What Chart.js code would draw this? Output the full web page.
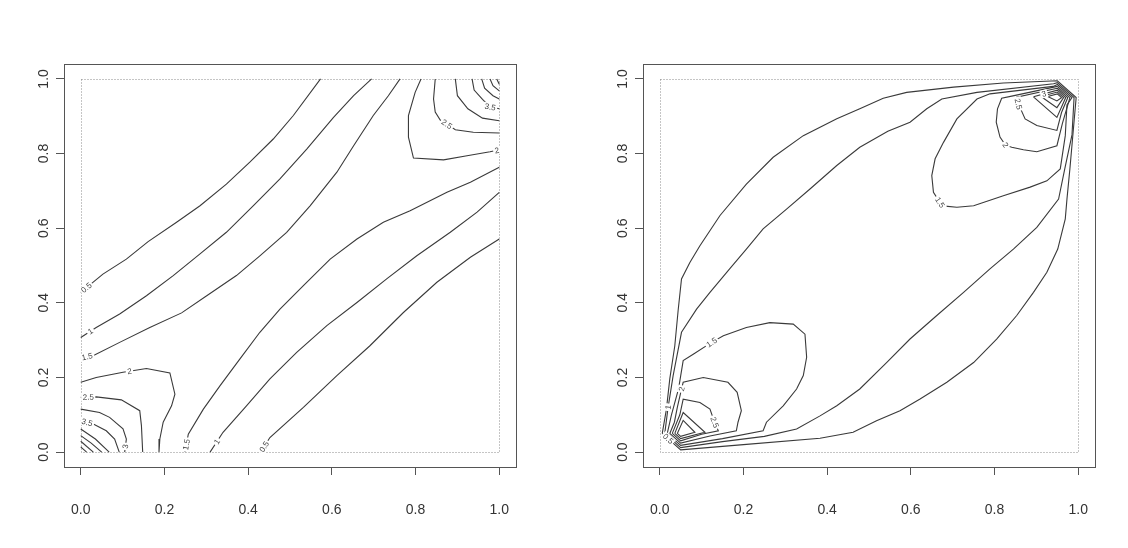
<!DOCTYPE html>
<html>
<head>
<meta charset="utf-8">
<script src="https://cdn.jsdelivr.net/npm/chart.js@4"></script>
<style>
  html, body { margin: 0; padding: 0; background: #fff; }
  #wrap { position: relative; width: 1128px; height: 548px; }
  canvas { position: absolute; top: 0; }
  #left { left: 0; }
  #right { left: 564px; }
</style>
</head>
<body>
<div id="wrap">
  <canvas id="left" width="564" height="548"></canvas>
  <canvas id="right" width="564" height="548"></canvas>
</div>
<script>
// tick values, same for both axes of both panels
const xTicks = [0, 0.2, 0.4, 0.6, 0.8, 1.0];
const yTicks = [0, 0.2, 0.4, 0.6, 0.8, 1.0];

// ---- left panel : contour lines, [x, y] ----
const l05a = [[0,0.428],[0.053,0.477],[0.109,0.517],[0.161,0.564],[0.229,0.616],[0.285,0.660],[0.348,0.718],[0.404,0.777],[0.460,0.839],[0.508,0.902],[0.573,1]];
const l1a  = [[0,0.307],[0.037,0.334],[0.093,0.370],[0.157,0.419],[0.221,0.473],[0.285,0.531],[0.348,0.589],[0.412,0.660],[0.476,0.732],[0.540,0.812],[0.604,0.897],[0.652,0.955],[0.695,1]];
const l15a = [[0,0.252],[0.033,0.260],[0.093,0.294],[0.165,0.334],[0.241,0.373],[0.301,0.419],[0.372,0.473],[0.428,0.526],[0.492,0.589],[0.548,0.660],[0.612,0.750],[0.652,0.821],[0.699,0.902],[0.735,0.955],[0.763,1]];
const l2ll  = [[0,0.187],[0.037,0.200],[0.101,0.214],[0.157,0.224],[0.213,0.212],[0.225,0.155],[0.217,0.124],[0.197,0.080],[0.189,0.035],[0.187,0]];
const l25ll = [[0,0.147],[0.037,0.148],[0.097,0.140],[0.141,0.111],[0.145,0.071],[0.148,0]];
const l3ll  = [[0,0.115],[0.045,0.106],[0.069,0.093],[0.101,0.062],[0.109,0.035],[0.105,0]];
const l35ll = [[0,0.084],[0.030,0.075],[0.061,0.057],[0.081,0.035],[0.092,0]];
const l4ll  = [[0,0.062],[0.035,0.035],[0.068,0]];
const l45ll = [[0,0.044],[0.025,0.024],[0.05,0]];
const l5ll  = [[0,0.029],[0.03,0]];
const l55ll = [[0,0.014],[0.014,0]];
const l15b = [[0.249,0],[0.257,0.048],[0.293,0.115],[0.333,0.178],[0.380,0.249],[0.428,0.321],[0.476,0.383],[0.532,0.446],[0.596,0.517],[0.660,0.571],[0.723,0.616],[0.787,0.647],[0.875,0.696],[0.931,0.723],[1,0.763]];
const l1b  = [[0.309,0],[0.340,0.053],[0.396,0.124],[0.452,0.196],[0.516,0.267],[0.588,0.339],[0.660,0.401],[0.731,0.464],[0.803,0.526],[0.883,0.589],[0.947,0.643],[1,0.696]];
const l05b = [[0.43,0],[0.452,0.039],[0.532,0.120],[0.612,0.205],[0.691,0.285],[0.771,0.374],[0.851,0.455],[0.931,0.522],[1,0.571]];
const l2ur  = [[1,0.81],[0.978,0.805],[0.923,0.794],[0.867,0.783],[0.795,0.788],[0.783,0.844],[0.783,0.902],[0.799,0.964],[0.813,1]];
const l25ur = [[1,0.855],[0.938,0.857],[0.895,0.864],[0.875,0.879],[0.859,0.890],[0.847,0.911],[0.843,0.946],[0.847,1]];
const l3ur  = [[1,0.888],[0.96,0.895],[0.925,0.92],[0.9,0.955],[0.895,1]];
const l35ur = [[1,0.92],[0.978,0.925],[0.96,0.945],[0.94,0.97],[0.935,1]];
const l4ur  = [[1,0.946],[0.985,0.955],[0.965,0.975],[0.958,1]];
const l45ur = [[1,0.968],[0.985,0.982],[0.978,1]];
const l5ur  = [[1,0.986],[0.994,1]];

const leftLines = [l05a, l1a, l15a, l2ll, l25ll, l3ll, l35ll, l4ll, l45ll, l5ll, l55ll,
                   l15b, l1b, l05b, l2ur, l25ur, l3ur, l35ur, l4ur, l45ur, l5ur];
const leftLabels = [
  ['0.5', l05a, 0.016, 0.437], ['1', l1a, 0.026, 0.319], ['1.5', l15a, 0.018, 0.242],
  ['2', l2ll, 0.117, 0.212], ['2.5', l25ll, 0.018, 0.145], ['3', l3ll, 0.109, 0.015],
  ['3.5', l35ll, 0.015, 0.078], ['1.5', l15b, 0.249, 0.021], ['1', l1b, 0.328, 0.026],
  ['0.5', l05b, 0.44, 0.013], ['2', l2ur, 0.994, 0.81], ['2.5', l25ur, 0.875, 0.879],
  ['3.5', l35ur, 0.978, 0.922]
];

// ---- right panel ----
const r05 = [[0.006,0.05],[0.016,0.115],[0.024,0.196],[0.036,0.285],[0.044,0.38],[0.052,0.464],[0.072,0.508],[0.096,0.553],[0.144,0.634],[0.207,0.718],[0.271,0.790],[0.343,0.848],[0.423,0.893],[0.478,0.920],[0.534,0.948],[0.590,0.964],[0.702,0.978],[0.821,0.989],[0.95,0.995],[0.995,0.95],[0.98,0.759],[0.973,0.678],[0.969,0.625],[0.951,0.544],[0.925,0.482],[0.893,0.428],[0.853,0.366],[0.805,0.303],[0.750,0.240],[0.686,0.187],[0.622,0.142],[0.574,0.111],[0.518,0.084],[0.462,0.053],[0.383,0.037],[0.2,0.02],[0.05,0.006],[0.006,0.05]];
const r1 = [[0.012,0.05],[0.020,0.12],[0.032,0.205],[0.052,0.321],[0.088,0.383],[0.120,0.428],[0.167,0.491],[0.207,0.544],[0.247,0.598],[0.303,0.651],[0.359,0.705],[0.423,0.768],[0.478,0.817],[0.545,0.860],[0.598,0.884],[0.638,0.920],[0.674,0.946],[0.758,0.964],[0.941,0.987],[0.95,0.99],[0.99,0.95],[0.985,0.85],[0.968,0.76],[0.953,0.678],[0.901,0.602],[0.845,0.544],[0.789,0.491],[0.726,0.428],[0.662,0.366],[0.598,0.303],[0.542,0.240],[0.478,0.169],[0.423,0.124],[0.383,0.097],[0.327,0.062],[0.25,0.042],[0.15,0.028],[0.05,0.012],[0.012,0.05]];
const r15ll = [[0.018,0.05],[0.028,0.10],[0.045,0.17],[0.056,0.245],[0.08,0.262],[0.124,0.294],[0.152,0.312],[0.207,0.334],[0.263,0.347],[0.319,0.343],[0.347,0.316],[0.351,0.254],[0.343,0.205],[0.327,0.169],[0.295,0.124],[0.255,0.08],[0.247,0.057],[0.15,0.036],[0.05,0.018],[0.018,0.05]];
const r2ll  = [[0.024,0.05],[0.035,0.08],[0.042,0.12],[0.052,0.169],[0.056,0.187],[0.104,0.200],[0.163,0.187],[0.185,0.160],[0.195,0.111],[0.187,0.080],[0.183,0.057],[0.12,0.043],[0.05,0.024],[0.024,0.05]];
const r25ll = [[0.030,0.05],[0.048,0.10],[0.056,0.142],[0.096,0.133],[0.120,0.115],[0.131,0.08],[0.14,0.057],[0.1,0.048],[0.05,0.03],[0.030,0.05]];
const r3ll  = [[0.036,0.05],[0.056,0.106],[0.108,0.053],[0.05,0.036],[0.036,0.05]];
const r35ll = [[0.042,0.05],[0.056,0.085],[0.084,0.053],[0.05,0.042],[0.042,0.05]];
const r15ur = [[0.95,0.985],[0.94,0.98],[0.789,0.960],[0.758,0.946],[0.710,0.893],[0.678,0.830],[0.658,0.786],[0.650,0.741],[0.654,0.696],[0.670,0.668],[0.682,0.659],[0.710,0.656],[0.750,0.660],[0.821,0.687],[0.885,0.710],[0.925,0.727],[0.957,0.759],[0.969,0.848],[0.973,0.930],[0.985,0.95],[0.95,0.985]];
const r2ur  = [[0.95,0.98],[0.841,0.954],[0.817,0.948],[0.807,0.920],[0.804,0.884],[0.813,0.844],[0.826,0.823],[0.841,0.817],[0.869,0.810],[0.901,0.805],[0.949,0.821],[0.962,0.88],[0.98,0.95],[0.95,0.98]];
const r25ur = [[0.95,0.975],[0.853,0.951],[0.857,0.933],[0.873,0.893],[0.901,0.875],[0.949,0.862],[0.96,0.91],[0.975,0.95],[0.95,0.975]];
const r3ur  = [[0.893,0.952],[0.949,0.897],[0.97,0.95],[0.95,0.97],[0.893,0.952]];
const r35ur = [[0.911,0.953],[0.949,0.923],[0.965,0.95],[0.95,0.965],[0.911,0.953]];
const r4ur  = [[0.927,0.953],[0.949,0.941],[0.96,0.95],[0.95,0.96],[0.927,0.953]];

const rightLines = [r05, r1, r15ll, r2ll, r25ll, r3ll, r35ll, r15ur, r2ur, r25ur, r3ur, r35ur, r4ur];
const rightLabels = [
  ['0.5', r05, 0.02, 0.036], ['1', r1, 0.020, 0.12], ['1.5', r15ll, 0.124, 0.294],
  ['2', r2ll, 0.052, 0.169], ['2.5', r25ll, 0.131, 0.08], ['1.5', r15ur, 0.668, 0.668],
  ['2', r2ur, 0.826, 0.823], ['2.5', r25ur, 0.857, 0.933], ['3', r3ur, 0.92, 0.952]
];

const FONT = '"Liberation Sans", Arial, sans-serif';
const LINE = '#3a3a3a';

// nearest point of a polyline (in pixels) to a label position, with the local direction
function nearestOnLine(chart, pts, lx, ly) {
  const xs = chart.scales.x, ys = chart.scales.y;
  const px = pts.map(p => [xs.getPixelForValue(p[0]), ys.getPixelForValue(p[1])]);
  const tx = xs.getPixelForValue(lx), ty = ys.getPixelForValue(ly);
  let best = null;
  for (let i = 0; i < px.length - 1; i++) {
    const [x1, y1] = px[i], [x2, y2] = px[i + 1];
    const dx = x2 - x1, dy = y2 - y1;
    const len2 = dx * dx + dy * dy || 1;
    let t = ((tx - x1) * dx + (ty - y1) * dy) / len2;
    t = Math.max(0, Math.min(1, t));
    const qx = x1 + t * dx, qy = y1 + t * dy;
    const d = (qx - tx) ** 2 + (qy - ty) ** 2;
    if (!best || d < best.d) best = { d, x: qx, y: qy, a: Math.atan2(dy, dx) };
  }
  return best;
}

function framePlugin(labels) {
  return {
    id: 'frame',
    beforeDatasetsDraw(chart) {
      // dotted box on the data range 0..1
      const ctx = chart.ctx, xs = chart.scales.x, ys = chart.scales.y;
      const x0 = Math.round(xs.getPixelForValue(0)) + 0.5, x1 = Math.round(xs.getPixelForValue(1)) + 0.5;
      const y0 = Math.round(ys.getPixelForValue(0)) + 0.5, y1 = Math.round(ys.getPixelForValue(1)) + 0.5;
      ctx.save();
      ctx.strokeStyle = '#8a8a8a';
      ctx.lineWidth = 1;
      ctx.setLineDash([1, 2]);
      ctx.strokeRect(x0, y1, x1 - x0, y0 - y1);
      ctx.restore();
    },
    afterDatasetsDraw(chart) {
      const ctx = chart.ctx;
      ctx.save();
      ctx.font = '8px ' + FONT;
      ctx.textAlign = 'center';
      ctx.textBaseline = 'middle';
      labels.forEach(([txt, pts, lx, ly]) => {
        const p = nearestOnLine(chart, pts, lx, ly);
        let a = p.a;
        if (a > Math.PI / 2) a -= Math.PI;
        if (a < -Math.PI / 2) a += Math.PI;
        const w = ctx.measureText(txt).width;
        ctx.save();
        ctx.translate(p.x, p.y);
        ctx.rotate(a);
        ctx.fillStyle = '#fff';
        ctx.fillRect(-w / 2 - 1.5, -4, w + 3, 8);
        ctx.fillStyle = '#444';
        ctx.fillText(txt, 0, 0.5);
        ctx.restore();
      });
      ctx.restore();
    },
    afterDraw(chart) {
      const ctx = chart.ctx, a = chart.chartArea, ys = chart.scales.y;
      ctx.save();
      ctx.strokeStyle = '#555';
      ctx.lineWidth = 1;
      ctx.strokeRect(Math.round(a.left) + 0.5, Math.round(a.top) + 0.5,
                     Math.round(a.right - a.left), Math.round(a.bottom - a.top));
      // y tick labels, written upwards like R does
      ctx.fillStyle = '#333';
      ctx.font = '14px ' + FONT;
      ctx.textAlign = 'center';
      ctx.textBaseline = 'middle';
      yTicks.forEach(v => {
        ctx.save();
        ctx.translate(a.left - 20, ys.getPixelForValue(v));
        ctx.rotate(-Math.PI / 2);
        ctx.fillText(v.toFixed(1), 0, 0);
        ctx.restore();
      });
      ctx.restore();
    }
  };
}

function makeChart(id, lines, labels, axisWidth, padRight) {
  const datasets = lines.map(l => ({
    data: l.map(p => ({ x: p[0], y: p[1] })),
    showLine: true,
    borderColor: LINE,
    borderWidth: 1.1,
    pointRadius: 0,
    fill: false,
    tension: 0
  }));
  return new Chart(document.getElementById(id), {
    type: 'scatter',
    data: { datasets },
    options: {
      responsive: false,
      animation: false,
      devicePixelRatio: 1,
      layout: { padding: { top: 64, right: padRight, left: 0, bottom: 0 } },
      plugins: { legend: { display: false }, tooltip: { enabled: false } },
      scales: {
        x: {
          type: 'linear', min: -0.04, max: 1.04,
          afterBuildTicks: s => { s.ticks = xTicks.map(v => ({ value: v })); },
          afterFit: s => { s.height = 81; },
          ticks: { callback: v => Number(v).toFixed(1), color: '#333', font: { size: 14, family: FONT },
                   padding: 27, maxRotation: 0, autoSkip: false },
          grid: { drawOnChartArea: false, drawTicks: true, tickLength: 8, color: '#555' },
          border: { display: false }
        },
        y: {
          type: 'linear', min: -0.04, max: 1.04,
          afterBuildTicks: s => { s.ticks = yTicks.map(v => ({ value: v })); },
          afterFit: s => { s.width = axisWidth; },
          ticks: { display: false },
          grid: { drawOnChartArea: false, drawTicks: true, tickLength: 8, color: '#555' },
          border: { display: false }
        }
      }
    },
    plugins: [framePlugin(labels)]
  });
}

makeChart('left', leftLines, leftLabels, 64, 48);
makeChart('right', rightLines, rightLabels, 79, 33);
</script>
</body>
</html>
